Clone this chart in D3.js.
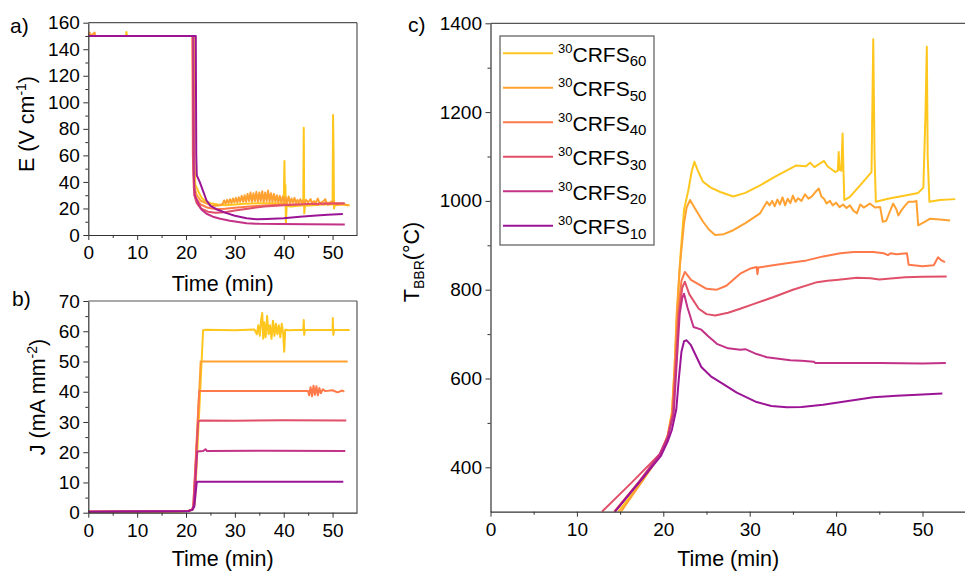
<!DOCTYPE html>
<html>
<head>
<meta charset="utf-8">
<script src="https://cdn.jsdelivr.net/npm/d3@7"></script>
<style>
  body { margin: 0; background: #fff; }
  svg { display: block; }
  text { font-family: "Liberation Sans", Arial, sans-serif; fill: #000; }
</style>
</head>
<body>
<svg id="fig" width="965" height="572"></svg>
<script>
// ---- samples and colours ----
const samples = ["60", "50", "40", "30", "20", "10"];
const sampleColors = ["#FFC61E", "#FFA232", "#FF7A4A", "#E05069", "#C33287", "#9C1496"];

// ---- tick values ----
const timeMajor = [0, 10, 20, 30, 40, 50];
const timeMinor = [5, 15, 25, 35, 45];
const fieldMajor = [0, 20, 40, 60, 80, 100, 120, 140, 160];
const fieldMinor = [10, 30, 50, 70, 90, 110, 130, 150];
const currentMajor = [0, 10, 20, 30, 40, 50, 60, 70];
const currentMinor = [5, 15, 25, 35, 45, 55, 65];
const tempMajor = [400, 600, 800, 1000, 1200, 1400];
const tempMinor = [500, 700, 900, 1100, 1300];

// ---- a) electric field E (V/cm) vs time (min) ----
const field60 = [[0,150],[7.7,150],[7.8,153],[7.9,150],[21.6,150],[21.7,60],[21.9,38],[22.5,33],[23.2,28],[24,25.5],[25,24],[26.5,23],[28,22.5],[30,23],[32,23.5],[35,24],[38,24],[40,23.5],[40.15,55.8],[40.25,24],[40.35,37.7],[40.45,9.3],[40.6,22],[41.5,21.5],[43,22],[44,22.5],[44.1,80.9],[44.2,16.3],[44.35,22],[46,22.5],[48,23],[50,23],[50.1,90.4],[50.2,64],[50.3,20],[50.45,22.5],[52,23],[53.5,22.5]];
const field50 = [[0,150],[0.3,152.5],[0.4,150],[1.3,152.5],[1.4,150],[21.4,150],[21.5,60],[21.7,36],[22.2,30],[23,26],[24,24],[25,22.5],[26,22],[27,22.5],[27.5,23.5],[27.8,26],[28.1,23.5],[28.4,26.5],[28.7,24],[29.0,27],[29.3,24],[29.6,27.5],[29.9,24.5],[30.2,28],[30.5,24.5],[30.8,28.5],[31.1,25],[31.4,29.5],[31.7,25],[32.0,30],[32.3,25],[32.6,31],[32.9,25.5],[33.2,32],[33.5,25],[33.8,31.5],[34.1,25.5],[34.4,32.5],[34.7,25],[35.0,32],[35.3,25.5],[35.6,33],[35.9,25],[36.2,32],[36.5,25.5],[36.8,33.5],[37.1,25],[37.4,31.5],[37.7,25],[38.0,31],[38.3,25],[38.6,30],[38.9,24.5],[39.2,29.5],[39.5,24.5],[39.8,29],[40.1,24],[40.4,28.5],[40.7,24],[41.0,29],[41.3,24],[41.6,27.5],[41.9,24.5],[42.2,28],[42.5,24],[42.8,26.5],[43.1,24],[43.4,27],[43.7,24.5],[44.0,26],[44.3,24],[44.6,26.5],[45.0,24.5],[45.5,27],[45.8,24],[46.2,25.5],[46.5,24],[47.0,27.5],[47.3,24],[48.0,25],[48.5,27],[48.8,24],[49.5,24.5],[50.0,25.5],[50.5,24],[51.0,24],[52.0,23.5],[53.0,22.5],[53.2,22]];
const field40 = [[0,150],[21.3,150],[21.4,60],[21.6,35],[22,28],[23,23],[24.5,20.5],[26,19.5],[28,19.8],[30,20.5],[33,21.5],[36,22.3],[40,23],[44,23.2],[46,23.5],[47,22.8],[47.5,24],[48,23],[48.5,24.3],[49,23],[50,24],[51,23.2],[52.3,23.5]];
const field30 = [[0,150],[21.4,150],[21.5,55],[21.7,30],[22.2,24],[23,20],[24.5,17.5],[26,16.8],[28,17.2],[30,18.5],[33,20],[36,21.5],[40,22.5],[45,23.3],[50,23.8],[52.5,24]];
const field20 = [[0,150],[21.5,150],[21.6,45],[21.8,30],[22.5,24],[23.2,19],[24.2,16],[25.5,13.8],[27,12.3],[29,10.8],[32.4,8.8],[35,8.4],[39.2,8.3],[45,8.1],[52.5,8]];
const field10 = [[0,150],[22,150],[22.1,60],[22.2,45],[22.8,40],[23.5,33],[24.2,26],[25,22],[26.5,19],[28.3,16.5],[30,14.5],[32.4,12.6],[34.5,11.8],[36.5,12],[40,12.6],[43.3,13.8],[46,14.5],[49,15.2],[52.1,15.8]];

// ---- b) current density J (mA/mm2) vs time (min) ----
const current60 = [[0,0.3],[19,0.4],[20.5,0.6],[21.3,1],[21.8,3],[23.5,60.3],[24,60.5],[30,60.3],[34,60.6],[34.5,59],[34.8,62],[35.1,58.5],[35.4,64],[35.6,66],[35.8,57.5],[36.0,63],[36.3,58],[36.6,65],[36.9,59],[37.2,62],[37.5,57.5],[37.8,63.5],[38.1,58.5],[38.4,62.5],[38.7,59],[39.0,62],[39.3,58],[39.6,62.5],[39.9,59],[40.1,53.2],[40.3,60.5],[41,60.3],[44,60.5],[44.1,63.7],[44.2,58.8],[44.3,60.4],[50,60.5],[50.05,64.4],[50.15,58.8],[50.3,60.4],[53.5,60.4]];
const current50 = [[0,0.3],[19,0.4],[20.5,0.6],[21.3,1],[21.6,2.5],[23,50],[53.1,50]];
const current40 = [[0,0.3],[20.5,0.6],[21.3,1],[21.5,2.5],[22.7,40.2],[45,40.2],[45.2,38.8],[45.5,41.5],[45.8,38.5],[46.1,42],[46.4,39],[46.7,41.8],[47,38.8],[47.3,41.2],[47.6,39.5],[48,40.8],[48.5,40.2],[50,40.5],[51,39.8],[52,40.4],[52.4,40]];
const current30 = [[0,0.3],[20.5,0.6],[21.3,1],[21.5,2.5],[22.5,30.2],[23,30.5],[30,30.4],[40,30.6],[52.8,30.5]];
const current20 = [[0,0.3],[20.5,0.6],[21.3,1],[21.6,2.5],[22.3,20.2],[23.5,20.4],[24,21],[24.3,20.4],[37,20.5],[52.6,20.4]];
const current10 = [[0,0.3],[20.5,0.5],[21.3,1],[21.7,2],[22.2,10.2],[52.2,10.2]];

// ---- c) black-body radiation temperature T_BBR (°C) vs time (min) ----
const temp60 = [[14.8,300],[17.6,370],[19.7,430],[20.5,472],[21.0,525],[21.3,625],[21.6,750],[22.0,880],[22.4,980],[22.9,1024],[23.3,1068],[23.6,1088],[24.0,1068],[24.6,1043],[25.5,1030],[26.6,1020],[28.1,1010],[29.5,1018],[31.2,1035],[33.0,1055],[35.4,1080],[36.5,1078],[37.0,1086],[37.5,1076],[38.1,1084],[38.6,1090],[39.0,1078],[39.9,1065],[40.2,1068],[40.3,1110],[40.4,1070],[40.6,1068],[40.75,1152],[40.85,1070],[40.95,1002],[41.6,1009],[43.0,1040],[44.1,1065],[44.3,1364],[44.45,1100],[44.6,998],[46.0,1005],[48.0,1012],[49.5,1018],[50.1,1030],[50.35,1200],[50.5,1347],[50.6,1100],[50.8,998],[52.0,1002],[53.8,1004]];
const temp50 = [[15.1,300],[17.6,370],[19.7,430],[20.5,468],[21.0,520],[21.3,620],[21.55,746],[21.9,850],[22.4,950],[22.7,985],[23.1,1002],[23.6,985],[24.6,953],[25.3,935],[26.0,923],[27.0,925],[28.1,934],[29.5,950],[31.2,972],[31.6,985],[32.0,998],[32.3,990],[32.6,1000],[32.9,988],[33.2,1003],[33.5,992],[33.8,1008],[34.1,990],[34.4,1005],[34.7,995],[35.0,1012],[35.3,998],[35.6,1006],[36.0,1000],[36.4,1015],[36.8,1005],[37.2,1010],[37.6,1020],[38.0,1028],[38.3,1010],[38.6,1005],[38.9,994],[39.3,1000],[39.6,990],[40.0,996],[40.4,986],[40.8,992],[41.2,984],[41.6,990],[42.0,978],[42.4,972],[42.8,992],[43.2,985],[43.9,994],[44.5,985],[45.1,986],[45.4,953],[45.8,955],[46.2,975],[46.6,994],[47.0,980],[47.2,967],[47.6,980],[48.0,990],[48.4,998],[49.0,998],[49.3,1000],[49.5,945],[50.2,952],[50.9,960],[52.0,958],[53.2,956]];
const temp40 = [[14.3,300],[17.3,370],[19.6,430],[20.5,468],[21.05,520],[21.4,640],[21.7,746],[22.1,820],[22.5,840],[23.2,822],[23.9,814],[25.0,802],[26.2,800],[27.3,809],[28.9,836],[30.0,847],[30.8,851],[30.9,835],[31.0,850],[32.7,855],[34.5,860],[36.6,866],[38.5,875],[40.5,882],[42.0,885],[44.3,885],[45.5,882],[46.0,878],[46.3,882],[47.0,880],[48.2,882],[48.4,856],[50.0,853],[51.3,855],[51.8,873],[52.2,866],[52.6,862]];
const temp30 = [[12.9,300],[16.3,365],[19.6,430],[20.5,470],[21.1,520],[21.5,650],[21.8,746],[22.2,805],[22.5,818],[23.0,790],[24.1,757],[25.0,745],[26.0,742],[27.5,748],[28.9,757],[30.5,768],[32.7,783],[35.0,800],[37.8,817],[39.0,820],[40.0,822],[42.4,827],[44.0,826],[45.0,823],[46.3,825],[48.0,828],[50.0,829],[52.8,830]];
const temp20 = [[14.4,300],[17.3,370],[19.6,430],[20.5,466],[21.2,520],[21.6,650],[21.9,746],[22.2,782],[22.4,791],[22.8,760],[23.5,716],[24.4,710],[25.2,695],[26.2,678],[27.5,668],[28.9,665],[29.5,666],[30.8,655],[32.0,648],[34.7,641],[36.0,640],[37.4,638],[37.6,635],[40.5,635],[45.0,635],[50.0,634],[52.7,635]];
const temp10 = [[14.4,300],[17.3,368],[19.7,425],[20.5,458],[21.0,485],[21.5,530],[21.8,600],[22.1,660],[22.4,684],[22.7,686],[23.2,675],[24.4,626],[25.5,605],[26.9,588],[28.5,568],[30.8,547],[32.5,538],[34.3,535],[36.0,536],[38.5,541],[41.0,548],[44.3,558],[47.0,561],[50.0,564],[52.3,566]];

const svg = d3.select("#fig");
const FONT_TICK = 19;
const FONT_TITLE = 21.5;
const plainInt = d3.format("d");

function drawPanel(p) {
  const g = svg.append("g");
  const x = d3.scaleLinear().domain(p.xDomain).range([p.left, p.right]);
  const y = d3.scaleLinear().domain(p.yDomain).range([p.bottom, p.top]);

  const clipId = "clip-" + p.id;
  svg.append("clipPath").attr("id", clipId)
    .append("rect")
    .attr("x", p.left).attr("y", p.top - 1)
    .attr("width", p.right - p.left).attr("height", p.bottom - p.top + 1);

  const line = d3.line().x(d => x(d[0])).y(d => y(d[1]));
  const lines = g.append("g").attr("clip-path", `url(#${clipId})`);
  p.series.forEach((s, i) => {
    lines.append("path")
      .attr("d", line(s))
      .attr("fill", "none")
      .attr("stroke", sampleColors[i])
      .attr("stroke-width", 2)
      .attr("stroke-linejoin", "round");
  });

  // top and right frame lines
  g.append("line").attr("x1", p.left).attr("x2", p.right)
    .attr("y1", p.top).attr("y2", p.top)
    .attr("stroke", "#555").attr("stroke-width", 1.2);
  g.append("line").attr("x1", p.right).attr("x2", p.right)
    .attr("y1", p.top).attr("y2", p.bottom)
    .attr("stroke", "#555").attr("stroke-width", 1.2);

  // minor ticks
  g.append("g").attr("transform", `translate(0,${p.bottom})`)
    .call(d3.axisBottom(x).tickValues(p.xMinor).tickSize(3).tickFormat(""))
    .call(a => a.select(".domain").remove())
    .call(a => a.selectAll("line").attr("stroke", "#333"));
  g.append("g").attr("transform", `translate(${p.left},0)`)
    .call(d3.axisLeft(y).tickValues(p.yMinor).tickSize(3).tickFormat(""))
    .call(a => a.select(".domain").remove())
    .call(a => a.selectAll("line").attr("stroke", "#333"));

  // major axes
  const ax = g.append("g").attr("transform", `translate(0,${p.bottom})`)
    .call(d3.axisBottom(x).tickValues(p.xMajor).tickFormat(plainInt)
      .tickSize(5).tickSizeOuter(0).tickPadding(6));
  const ay = g.append("g").attr("transform", `translate(${p.left},0)`)
    .call(d3.axisLeft(y).tickValues(p.yMajor).tickFormat(plainInt)
      .tickSize(5).tickSizeOuter(0).tickPadding(3.5));
  [ax, ay].forEach(a => {
    a.attr("font-family", null).attr("font-size", null);
    a.selectAll("text").style("font-size", FONT_TICK + "px").attr("fill", "#000");
    a.selectAll("line").attr("stroke", "#333");
    a.select(".domain").attr("stroke", "#333").attr("stroke-width", 1.2);
  });

  // x axis title
  g.append("text")
    .attr("x", (p.left + p.right) / 2).attr("y", p.xTitleY)
    .attr("text-anchor", "middle")
    .style("font-size", FONT_TITLE + "px")
    .text("Time (min)");

  return { x, y };
}

// a) field panel
drawPanel({
  id: "a", left: 88.3, right: 357, top: 22.7, bottom: 235,
  xDomain: [0, 55], yDomain: [0, 160],
  xMajor: timeMajor, xMinor: timeMinor, yMajor: fieldMajor, yMinor: fieldMinor,
  series: [field60, field50, field40, field30, field20, field10],
  xTitleY: 291
});

// b) current density panel
drawPanel({
  id: "b", left: 88.3, right: 357, top: 301, bottom: 512.7,
  xDomain: [0, 55], yDomain: [0, 70],
  xMajor: timeMajor, xMinor: timeMinor, yMajor: currentMajor, yMinor: currentMinor,
  series: [current60, current50, current40, current30, current20, current10],
  xTitleY: 566
});

// c) temperature panel
drawPanel({
  id: "c", left: 490.5, right: 965.7, top: 23.3, bottom: 511.7,
  xDomain: [0, 55], yDomain: [300, 1400],
  xMajor: timeMajor, xMinor: timeMinor, yMajor: tempMajor, yMinor: tempMinor,
  series: [temp60, temp50, temp40, temp30, temp20, temp10],
  xTitleY: 566
});

// y axis titles (rotated)
function yTitle(cx, cy, build) {
  const t = svg.append("text")
    .attr("transform", `translate(${cx},${cy}) rotate(-90)`)
    .attr("text-anchor", "middle")
    .style("font-size", FONT_TITLE + "px");
  build(t);
}
yTitle(34, 124, t => {
  t.append("tspan").text("E (V cm");
  t.append("tspan").attr("dy", -8).style("font-size", "14px").text("-1");
  t.append("tspan").attr("dy", 8).text(")");
});
yTitle(45, 397, t => {
  t.append("tspan").text("J (mA mm");
  t.append("tspan").attr("dy", -8).style("font-size", "14px").text("-2");
  t.append("tspan").attr("dy", 8).text(")");
});
yTitle(419, 262, t => {
  t.append("tspan").text("T");
  t.append("tspan").attr("dy", 5).style("font-size", "14px").text("BBR");
  t.append("tspan").attr("dy", -5).text("(°C)");
});

// panel letters
[["a)", 10, 33], ["b)", 12, 306], ["c)", 408, 32]].forEach(([s, lx, ly]) => {
  svg.append("text").attr("x", lx).attr("y", ly)
    .style("font-size", "21px").text(s);
});

// legend for panel c
const legend = svg.append("g");
legend.append("rect")
  .attr("x", 500).attr("y", 36).attr("width", 154).attr("height", 209)
  .attr("fill", "#fff").attr("stroke", "#666").attr("stroke-width", 1.3);
samples.forEach((s, i) => {
  const ly = 53.3 + i * 34.5;
  legend.append("line")
    .attr("x1", 503).attr("x2", 553).attr("y1", ly).attr("y2", ly)
    .attr("stroke", sampleColors[i]).attr("stroke-width", 2);
  const t = legend.append("text").attr("x", 558).attr("y", ly + 8.4);
  t.append("tspan").attr("dy", -9).style("font-size", "13px").text("30");
  t.append("tspan").attr("dy", 9).style("font-size", "21px").text("CRFS");
  t.append("tspan").attr("dy", 4.5).style("font-size", "15px").text(s);
});
</script>
</body>
</html>
